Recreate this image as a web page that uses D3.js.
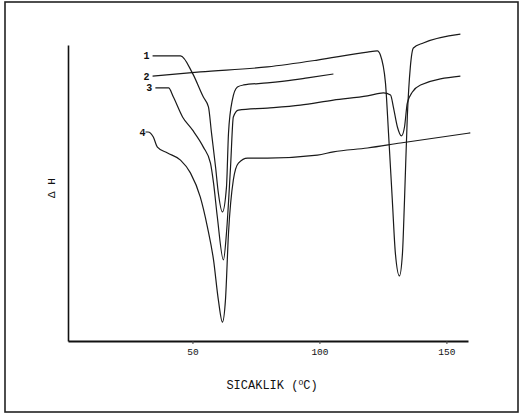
<!DOCTYPE html>
<html>
<head>
<meta charset="utf-8">
<title>DSC</title>
<style>
  body { margin: 0; background: #fff; }
  text { font-family: "Liberation Mono", "DejaVu Sans Mono", monospace; fill: #111; }
</style>
</head>
<body>
<script src="https://d3js.org/d3.v7.min.js"></script>
<script>
// temperatures (°C) and ΔH readings (arbitrary units) for each curve
const t1 = [34.3, 45.3, 50, 54.3, 56.3, 57.5, 59.1, 60.2, 61.8, 63.4, 64.2, 65.7, 67.7, 70.1, 79.5, 89.8, 95.3, 105.5];
const h1 = [96.3, 96.3, 90.5, 82.4, 79.1, 70.3, 58.8, 50.0, 43.6, 52.0, 70.3, 81.4, 85.8, 86.5, 87.2, 88.2, 88.9, 90.2];

const t2 = [34.3, 53.1, 79.5, 99.2, 118.9, 122.8, 124.0, 126.0, 127.2, 128.7, 129.9, 131.5, 132.7, 133.5, 134.6, 135.8, 137.0, 140.9, 155.5];
const h2 = [89.5, 90.9, 92.6, 94.9, 97.6, 98.0, 96.6, 87.2, 70.3, 47.6, 29.7, 22.0, 29.7, 47.6, 75.7, 92.6, 99.0, 100.7, 103.7];

const t3 = [35.4, 40.6, 42.5, 46.1, 50, 54.3, 57.1, 58.3, 59.8, 62.2, 63.4, 65.0, 66.1, 68.1, 79.5, 92.5, 105.5, 118.9, 125.2, 128.0, 129.1, 130.7, 132.3, 133.5, 134.6, 136.6, 139.8, 155.5];
const h3 = [85.5, 85.5, 82.4, 75.7, 71.3, 65.5, 60.1, 53.4, 41.9, 27.4, 36.5, 58.8, 75.7, 78.0, 78.7, 79.7, 81.4, 82.8, 83.8, 83.1, 79.1, 72.3, 69.3, 72.3, 80.4, 84.1, 86.5, 89.5];

const t4 = [31.5, 32.5, 34.6, 36.2, 40.2, 45.3, 49.2, 53.1, 55.9, 58.3, 60.2, 61.8, 63.0, 64.2, 66.1, 68.1, 71.7, 79.5, 99.2, 105.5, 118.9, 131.9, 159.4];
const h4 = [70.6, 70.6, 68.9, 65.5, 63.5, 61.1, 56.8, 48.6, 38.5, 27.4, 13.9, 6.4, 13.9, 36.5, 54.4, 60.1, 61.8, 61.8, 62.8, 63.9, 65.2, 66.9, 70.3];

const curveNames = ["1", "2", "3", "4"];
const xTicks = [50, 100, 150];

const series = [[t1, h1], [t2, h2], [t3, h3], [t4, h4]].map(function (s, i) {
  return { name: curveNames[i], pts: s[0].map(function (t, j) { return [t, s[1][j]]; }) };
});

const W = 521, H = 417;
const svg = d3.select("body").append("svg").attr("width", W).attr("height", H);

// scanned frame
svg.append("rect").attr("x", 5).attr("y", 2).attr("width", 513).attr("height", 410)
  .attr("fill", "none").attr("stroke", "#222").attr("stroke-width", 1.6);

const x = d3.scaleLinear().domain([1, 158.5]).range([68, 468]);
const y = d3.scaleLinear().domain([0, 100]).range([341, 45]);

// axes
const xAxis = svg.append("g").attr("transform", "translate(0,341)")
  .call(d3.axisBottom(x).tickValues(xTicks).tickSizeInner(3).tickSizeOuter(0).tickPadding(4));
xAxis.select(".domain").attr("stroke", "#111").attr("stroke-width", 2);
xAxis.selectAll(".tick line").attr("stroke", "#444");
xAxis.selectAll(".tick text").attr("font-size", 9.5).attr("font-family", "Liberation Mono, monospace").attr("fill", "#111");

const yAxis = svg.append("g").attr("transform", "translate(68,0)")
  .call(d3.axisLeft(y).tickValues([]).tickSizeOuter(0));
yAxis.select(".domain").attr("stroke", "#111").attr("stroke-width", 1.6);

// curves
const line = d3.line().x(function (d) { return x(d[0]); }).y(function (d) { return y(d[1]); })
  .curve(d3.curveMonotoneX);

svg.selectAll("path.curve").data(series).enter().append("path")
  .attr("class", "curve")
  .attr("d", function (d) { return line(d.pts); })
  .attr("fill", "none").attr("stroke", "#1a1a1a").attr("stroke-width", 1.2);

// curve numbers
svg.selectAll("text.lab").data(series).enter().append("text")
  .attr("class", "lab")
  .attr("x", function (d) { return x(d.pts[0][0]) - (d.name === "4" ? 0 : 3); })
  .attr("y", function (d) { return y(d.pts[0][1]) + 3.5; })
  .attr("text-anchor", "end")
  .attr("font-size", 10)
  .attr("font-weight", "bold")
  .text(function (d) { return d.name; });

// axis titles
const xt = svg.append("text").attr("x", 272).attr("y", 389).attr("text-anchor", "middle")
  .attr("font-size", 12);
xt.append("tspan").text("SICAKLIK (");
xt.append("tspan").attr("font-size", 8).attr("dy", -4).text("O");
xt.append("tspan").attr("dy", 4).text("C)");

svg.append("text").attr("transform", "translate(55,188) rotate(-90)")
  .attr("text-anchor", "middle").attr("font-size", 11).text("Δ H");
</script>
</body>
</html>
